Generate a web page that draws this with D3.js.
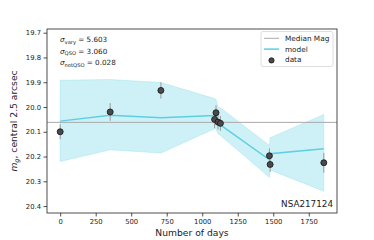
<!DOCTYPE html>
<html>
<head>
<meta charset="utf-8">
<script src="https://cdn.jsdelivr.net/npm/d3@7"></script>
<style>
  body { margin: 0; background: #fff; }
  svg text { font-family: "DejaVu Sans", sans-serif; fill: #222; }
</style>
</head>
<body>
<div id="chart"></div>
<script>
// observations
var days = [0, 352, 709, 1087, 1097, 1111, 1128, 1473, 1478, 1856];
var mags = [20.10, 20.02, 19.933, 20.050, 20.023, 20.061, 20.066, 20.197, 20.232, 20.225];
var errs = [0.03, 0.036, 0.033, 0.035, 0.03, 0.03, 0.03, 0.03, 0.03, 0.04];

// model curve and its band
var model = [20.057, 20.033, 20.043, 20.034, 20.033, 20.068, 20.072, 20.213, 20.189, 20.169];
var upper = [19.892, 19.889, 19.901, 19.966, 19.970, 19.999, 20.003, 20.155, 20.124, 20.030];
var lower = [20.220, 20.173, 20.186, 20.088, 20.090, 20.108, 20.115, 20.284, 20.254, 20.340];

var medianMag = 20.062;
var xTicks = [0, 250, 500, 750, 1000, 1250, 1500, 1750];
var yTicks = [19.7, 19.8, 19.9, 20.0, 20.1, 20.2, 20.3, 20.4];
var sigmaNames = ["vary", "QSO", "notQSO"];
var sigmaValues = ["5.603", "3.060", "0.028"];
var legendLabels = ["Median Mag", "model", "data"];
var objName = "NSA217124";

function init() {
    var w = 374, h = 240;
    var left = 47, right = 337, top = 29, bottom = 213;

    var x = d3.scaleLinear().domain([-92.8, 1948.8]).range([left, right]);
    var y = d3.scaleLinear().domain([19.685, 20.428]).range([top, bottom]);

    var svg = d3.select("#chart").append("svg")
                .attr("width", w)
                .attr("height", h);

    var pts = days.map(function(d, i) {
        return {t: d, m: mags[i], e: errs[i], mod: model[i], up: upper[i], lo: lower[i]};
    });

    //band
    var area = d3.area()
                .x(function(d) { return x(d.t); })
                .y0(function(d) { return y(d.up); })
                .y1(function(d) { return y(d.lo); });
    svg.append("path")
        .datum(pts)
        .attr("d", area)
        .attr("fill", "#5bcfe0")
        .attr("fill-opacity", 0.3)
        .attr("stroke", "#5bcfe0")
        .attr("stroke-opacity", 0.3)
        .attr("stroke-width", 0.8);

    //median line
    svg.append("line")
        .attr("x1", left).attr("x2", right)
        .attr("y1", y(medianMag)).attr("y2", y(medianMag))
        .attr("stroke", "#aaaaaa")
        .attr("stroke-width", 1);

    //model line
    var line = d3.line()
                .x(function(d) { return x(d.t); })
                .y(function(d) { return y(d.mod); });
    svg.append("path")
        .datum(pts)
        .attr("d", line)
        .attr("fill", "none")
        .attr("stroke", "#5ccfe2")
        .attr("stroke-width", 1.5);

    //error bars
    svg.selectAll("line.err")
        .data(pts)
        .enter()
        .append("line")
        .attr("class", "err")
        .attr("x1", function(d) { return x(d.t); })
        .attr("x2", function(d) { return x(d.t); })
        .attr("y1", function(d) { return y(d.m - d.e); })
        .attr("y2", function(d) { return y(d.m + d.e); })
        .attr("stroke", "#999")
        .attr("stroke-width", 1);

    //data points
    svg.selectAll("circle.pt")
        .data(pts)
        .enter()
        .append("circle")
        .attr("class", "pt")
        .attr("cx", function(d) { return x(d.t); })
        .attr("cy", function(d) { return y(d.m); })
        .attr("r", 3)
        .attr("fill", "#4a4a4a")
        .attr("stroke", "#111")
        .attr("stroke-width", 0.8);

    //axes
    var xAxis = d3.axisBottom(x).tickValues(xTicks).tickSize(3.5).tickPadding(2.5)
        .tickFormat(d3.format("d"));
    var gx = svg.append("g")
        .attr("transform", "translate(0," + bottom + ")")
        .call(xAxis);
    var yAxis = d3.axisLeft(y).tickValues(yTicks).tickSize(3.5).tickPadding(2.5)
        .tickFormat(d3.format(".1f"));
    var gy = svg.append("g")
        .attr("transform", "translate(" + left + ",0)")
        .call(yAxis);
    [gx, gy].forEach(function(g) {
        g.select(".domain").remove();
        g.selectAll("text").style("font-size", "6.8px").attr("fill", "#222");
        g.selectAll("line").attr("stroke", "#222").attr("stroke-width", 0.8);
    });

    //frame
    svg.append("rect")
        .attr("x", left).attr("y", top)
        .attr("width", right - left).attr("height", bottom - top)
        .attr("fill", "none")
        .attr("stroke", "#222")
        .attr("stroke-width", 0.8);

    //axis labels
    svg.append("text")
        .attr("x", (left + right) / 2)
        .attr("y", 236)
        .attr("text-anchor", "middle")
        .style("font-size", "9.2px")
        .text("Number of days");

    var yl = svg.append("text")
        .attr("transform", "translate(17," + ((top + bottom) / 2) + ") rotate(-90)")
        .attr("text-anchor", "middle")
        .style("font-size", "9.2px");
    yl.append("tspan").style("font-style", "italic").text("m");
    yl.append("tspan").attr("dy", 2).style("font-size", "6.5px").style("font-style", "italic").text("g");
    yl.append("tspan").attr("dy", -2).text(", central 2.5 arcsec");

    //sigma notes
    sigmaNames.forEach(function(n, i) {
        var t = svg.append("text")
            .attr("x", 60)
            .attr("y", 42 + i * 11.7)
            .style("font-size", "7.2px");
        t.append("tspan").style("font-style", "italic").text("σ");
        t.append("tspan").attr("dy", 1.5).style("font-size", "5.2px").text(n);
        t.append("tspan").attr("dy", -1.5).text(" = " + sigmaValues[i]);
    });

    //object name
    svg.append("text")
        .attr("x", 333)
        .attr("y", 206.5)
        .attr("text-anchor", "end")
        .style("font-size", "8.8px")
        .text(objName);

    //legend
    var lg = svg.append("g");
    lg.append("rect")
        .attr("x", 261).attr("y", 31.5)
        .attr("width", 72).attr("height", 35)
        .attr("rx", 2)
        .attr("fill", "#fff").attr("fill-opacity", 0.8)
        .attr("stroke", "#d5d5d5").attr("stroke-width", 0.8);
    legendLabels.forEach(function(lab, i) {
        var cy = 38.3 + i * 10.8;
        if (i === 0) {
            lg.append("line").attr("x1", 264).attr("x2", 279).attr("y1", cy).attr("y2", cy)
                .attr("stroke", "#aaaaaa").attr("stroke-width", 1);
        } else if (i === 1) {
            lg.append("line").attr("x1", 264).attr("x2", 279).attr("y1", cy).attr("y2", cy)
                .attr("stroke", "#5ccfe2").attr("stroke-width", 1.5);
        } else {
            lg.append("circle").attr("cx", 271.5).attr("cy", cy + 0.5).attr("r", 2.6)
                .attr("fill", "#4a4a4a").attr("stroke", "#111").attr("stroke-width", 0.8);
        }
        lg.append("text")
            .attr("x", 285)
            .attr("y", cy + 2.5)
            .style("font-size", "7.3px")
            .text(lab);
    });
}

window.onload = init;
</script>
</body>
</html>
